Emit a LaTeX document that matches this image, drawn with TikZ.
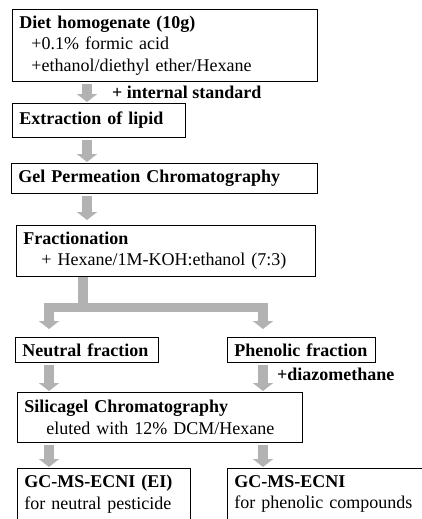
\documentclass[tikz,border=0pt]{standalone}
\usepackage{fontspec}
\setmainfont{Liberation Serif}
\usetikzlibrary{arrows.meta,calc}

\tikzset{
  box/.style={draw, line width=0.8pt, anchor=north west, align=left,
    inner xsep=7pt, inner ysep=0pt, text width=#1,
    font=\fontsize{18}{21.5}\selectfont},
  boxbasso/.style={box=#1, inner ysep=7pt, text depth=40pt},
  nota/.style={anchor=west, inner sep=0pt, font=\fontsize{18}{21.5}\selectfont\bfseries},
  freccia/.style={line width=10pt, draw=gray!60,
    -{Triangle[length=8pt,width=20pt]}, shorten <=2pt, shorten >=1pt},
  ramo/.style={line width=9pt, draw=gray!60},
}

\begin{document}
\begin{tikzpicture}[x=1pt,y=-1pt]
    \path[use as bounding box, clip] (0,0) rectangle (422,519);
    % riquadri
    \node[box=291pt, minimum height=72pt] (dieta) at (12,9)
        {\textbf{Diet homogenate (10g)}\\
         \hspace*{12pt}+0.1\% formic acid\\
         \hspace*{12pt}+ethanol/diethyl ether/Hexane};
    \node[box=159pt, minimum height=34pt] (lipidi) at (12,103) {\textbf{Extraction of lipid}};
    \node[box=292pt, minimum height=30pt] (gpc) at (11,163) {\textbf{Gel Permeation Chromatography}};
    \node[box=285pt, minimum height=51pt] (fraz) at (16,225)
        {\textbf{Fractionation}\\
         \hspace*{18pt}+ Hexane/1M-KOH:ethanol (7:3)};
    \node[box=129pt, minimum height=25pt] (neutro) at (15,337) {\textbf{Neutral fraction}};
    \node[box=134pt, minimum height=25pt] (fenoli) at (227,337) {\textbf{Phenolic fraction}};
    \node[box=271pt, minimum height=50pt] (silica) at (17,392)
        {\textbf{Silicagel Chromatography}\\
         \hspace*{22pt}eluted with 12\% DCM/Hexane};
    \node[boxbasso=159pt] (gcn) at (17,468)
        {\textbf{GC-MS-ECNI (EI)}\\for neutral pesticide};
    \node[boxbasso=186pt] (gcf) at (227,468)
        {\textbf{GC-MS-ECNI}\\for phenolic compounds};
    % colonne delle frecce
    \coordinate (colA) at (87,0);
    \coordinate (colB) at (83,0);
    \coordinate (colL) at (49,0);
    \coordinate (colR) at (263,0);
    \coordinate (barra) at (0,307);
    \draw[freccia] (dieta.south -| colA) -- (lipidi.north -| colA);
    \node[nota] (istd) at (112,92) {+ internal standard};
    \draw[freccia] (lipidi.south -| colA) -- (gpc.north -| colA);
    \draw[freccia, shorten >=5pt] (gpc.south -| colA) -- (fraz.north -| colA);
    % biforcazione
    \draw[ramo, line width=10pt] (fraz.south -| colB) -- (barra -| colB);
    \draw[ramo] ($(barra -| colL)+(-5,0)$) -- ($(barra -| colR)+(5,0)$);
    \draw[freccia, shorten <=0pt, shorten >=8pt] ($(barra -| colL)+(0,-4.5)$) -- (neutro.north -| colL);
    \draw[freccia, shorten <=0pt, shorten >=8pt] ($(barra -| colR)+(0,-4.5)$) -- (fenoli.north -| colR);
    \draw[freccia] (neutro.south -| colL) -- (silica.north -| colL);
    \draw[freccia] (fenoli.south -| colR) -- (silica.north -| colR);
    \node[nota] (diazo) at (277,374) {+diazomethane};
    \draw[freccia] (silica.south -| colL) -- (gcn.north -| colL);
    \draw[freccia] (silica.south -| colR) -- (gcf.north -| colR);
\end{tikzpicture}
\end{document}
